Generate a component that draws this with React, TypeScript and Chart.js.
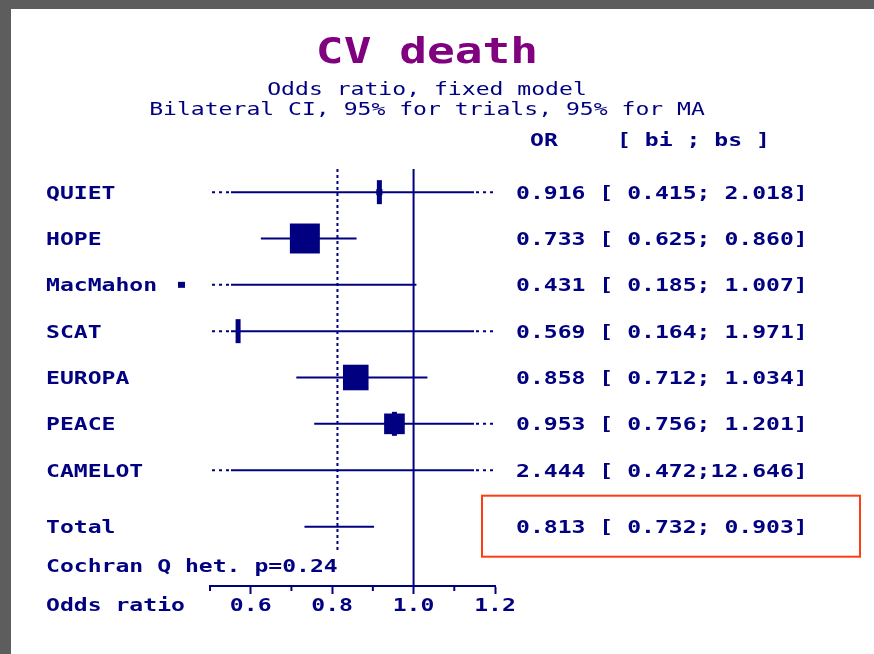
import React, { useEffect, useRef } from 'react';
import { Chart, registerables } from 'chart.js';

Chart.register(...registerables);

// ---------- data ----------
const trials = ['QUIET', 'HOPE', 'MacMahon', 'SCAT', 'EUROPA', 'PEACE', 'CAMELOT'];
const oddsRatio = [0.916, 0.733, 0.431, 0.569, 0.858, 0.953, 2.444];
const ciLow = [0.415, 0.625, 0.185, 0.164, 0.712, 0.756, 0.472];
const ciHigh = [2.018, 0.86, 1.007, 1.971, 1.034, 1.201, 12.646];
const weightPct = [1.8, 43.4, 1.5, 0.7, 31.6, 20.6, 0.4];
const trialRows = [1, 2, 3, 4, 5, 6, 7];

const totalLabel = 'Total';
const totalOR = 0.813;
const totalLow = 0.732;
const totalHigh = 0.903;
const totalRow = 8.22;
const pooledLineEndRow = 8.75;

const heterogeneityText = 'Cochran Q het. p=0.24';
const heterogeneityRow = 9.05;

const titleText = 'CV death';
const subtitleLines = ['Odds ratio, fixed model', 'Bilateral CI, 95% for trials, 95% for MA'];
const headerOR = 'OR';
const headerCI = '[ bi ; bs ]';
const axisTitle = 'Odds ratio';
const xMin = 0.5;
const xMax = 1.2;
const xStep = 0.1;
const majorTickLabels = ['0.6', '0.8', '1.0', '1.2'];

// ---------- style ----------
const NAVY = '#000080';
const PURPLE = '#800080';
const GRAY = '#5d5d5d';
const RED = '#ff3c14';
const MONO = '"DejaVu Sans Mono", monospace';
const STRETCH = 1.282;

function fmt(v: number, w: number) {
  return v.toFixed(3).padStart(w, ' ');
}
function rowText(or: number, lo: number, hi: number) {
  return `${or.toFixed(3)} [${fmt(lo, 6)};${fmt(hi, 6)}]`;
}

function drawText(ctx: CanvasRenderingContext2D, s: string, x: number, y: number, font: string, color: string, align: CanvasTextAlign = 'left') {
  ctx.save();
  ctx.font = font;
  ctx.fillStyle = color;
  ctx.textAlign = align;
  ctx.textBaseline = 'alphabetic';
  (ctx as any).letterSpacing = '0px';
  ctx.translate(x, y);
  ctx.scale(STRETCH, 1);
  ctx.fillText(s, 0, 0);
  ctx.restore();
}

function seg(ctx: CanvasRenderingContext2D, x1: number, y1: number, x2: number, y2: number) {
  ctx.beginPath();
  ctx.moveTo(x1, y1);
  ctx.lineTo(x2, y2);
  ctx.stroke();
}

const forestPlugin = {
  id: 'forest',
  beforeDraw(chart: any) {
    const { ctx, width, height } = chart;
    ctx.save();
    ctx.fillStyle = GRAY;
    ctx.fillRect(0, 0, width, height);
    ctx.fillStyle = '#ffffff';
    ctx.fillRect(11, 9, width - 11, height - 9);
    ctx.restore();
  },
  beforeDatasetsDraw(chart: any) {
    const { ctx, chartArea: area } = chart;
    const xs = chart.scales.x;
    const ys = chart.scales.y;
    const L = area.left;
    const R = area.right;
    ctx.save();
    ctx.strokeStyle = NAVY;
    ctx.lineWidth = 2;
    ctx.lineCap = 'butt';
    // null line
    const x1 = xs.getPixelForValue(1);
    seg(ctx, x1, area.top, x1, area.bottom);
    // pooled estimate dotted line
    const xp = xs.getPixelForValue(totalOR);
    ctx.setLineDash([3, 3]);
    seg(ctx, xp, area.top, xp, ys.getPixelForValue(pooledLineEndRow));
    ctx.setLineDash([]);

    const ext = 21;
    const drawCI = (lo: number, hi: number, row: number) => {
      const py = ys.getPixelForValue(row);
      let a = xs.getPixelForValue(lo);
      let b = xs.getPixelForValue(hi);
      if (lo < xMin) {
        ctx.setLineDash([3, 4]);
        seg(ctx, L + 2, py, L + ext, py);
        ctx.setLineDash([]);
        a = L + ext;
      }
      if (hi > xMax) {
        ctx.setLineDash([3, 4]);
        seg(ctx, R - ext + 2, py, R - 1, py);
        ctx.setLineDash([]);
        b = R - ext;
      }
      seg(ctx, a, py, b, py);
    };
    trials.forEach((_, i) => drawCI(ciLow[i], ciHigh[i], trialRows[i]));
    drawCI(totalLow, totalHigh, totalRow);
    ctx.restore();
  },
  afterDraw(chart: any) {
    const { ctx, chartArea: area } = chart;
    const xs = chart.scales.x;
    const ys = chart.scales.y;
    const W = chart.width;
    const bold = `bold 18px ${MONO}`;
    const normal = `18px ${MONO}`;
    ctx.save();
    // minor ticks + major tick labels
    ctx.strokeStyle = NAVY;
    ctx.lineWidth = 2;
    xs.ticks.forEach((t: any) => {
      const lbl = Number(t.value).toFixed(1);
      const px = xs.getPixelForValue(t.value);
      if (!majorTickLabels.includes(lbl)) {
        seg(ctx, px, area.bottom, px, area.bottom + 5);
      } else {
        drawText(ctx, lbl, px, area.bottom + 25, bold, NAVY, 'center');
      }
    });
    // off-scale markers
    trials.forEach((_, i) => {
      if (oddsRatio[i] < xMin) {
        const py = ys.getPixelForValue(trialRows[i]);
        ctx.fillStyle = NAVY;
        ctx.fillRect(area.left - 32, py - 3, 7, 6);
      }
    });
    ctx.restore();

    // titles
    const cx = W / 2 - 10;
    drawText(ctx, titleText, cx, 63, `bold 36px ${MONO}`, PURPLE, 'center');
    drawText(ctx, subtitleLines[0], cx, 95, normal, NAVY, 'center');
    drawText(ctx, subtitleLines[1], cx, 115, normal, NAVY, 'center');

    const labelX = 46;
    const valueX = 516;
    const base = 6.5;
    const hy = ys.getPixelForValue(-0.14) + base;
    drawText(ctx, headerOR, valueX + 14, hy, bold, NAVY);
    drawText(ctx, headerCI, valueX + 101, hy, bold, NAVY);

    trials.forEach((name, i) => {
      const py = ys.getPixelForValue(trialRows[i]) + base;
      drawText(ctx, name, labelX, py, bold, NAVY);
      drawText(ctx, rowText(oddsRatio[i], ciLow[i], ciHigh[i]), valueX, py, bold, NAVY);
    });
    const ty = ys.getPixelForValue(totalRow);
    drawText(ctx, totalLabel, labelX, ty + base, bold, NAVY);
    drawText(ctx, rowText(totalOR, totalLow, totalHigh), valueX, ty + base, bold, NAVY);
    drawText(ctx, heterogeneityText, labelX, ys.getPixelForValue(heterogeneityRow) + base, bold, NAVY);
    drawText(ctx, axisTitle, labelX, area.bottom + 25, bold, NAVY);

    // highlight box around pooled result
    ctx.save();
    ctx.strokeStyle = RED;
    ctx.lineWidth = 2;
    ctx.strokeRect(482, ty - 31, 378, 61);
    ctx.restore();
  },
};

export default function App() {
  const ref = useRef<HTMLCanvasElement | null>(null);
  useEffect(() => {
    if (!ref.current) return;
    const boxSide = (w: number) => 4.55 * Math.sqrt(w);
    const chart = new Chart(ref.current, {
      type: 'scatter',
      data: {
        datasets: [
          {
            label: 'estimate',
            data: trials.map((_, i) => ({ x: oddsRatio[i], y: trialRows[i] })),
            pointStyle: 'line',
            rotation: 90,
            pointRadius: 12,
            borderWidth: 5,
            borderColor: NAVY,
            backgroundColor: NAVY,
          },
          {
            label: 'weight',
            data: trials.map((_, i) => ({ x: oddsRatio[i], y: trialRows[i] })),
            pointStyle: 'rect',
            pointRadius: trials.map((_, i) => boxSide(weightPct[i]) / Math.SQRT2),
            borderWidth: 0,
            borderColor: NAVY,
            backgroundColor: NAVY,
          },
        ],
      },
      options: {
        animation: false,
        responsive: false,
        events: [],
        layout: { padding: { left: 210, right: 379, top: 169, bottom: 0 } },
        plugins: { legend: { display: false }, tooltip: { enabled: false }, title: { display: false } },
        scales: {
          x: {
            type: 'linear',
            min: xMin,
            max: xMax,
            afterFit: (s: any) => {
              s.height = 68;
            },
            border: { display: true, color: NAVY, width: 2 },
            grid: {
              drawOnChartArea: false,
              drawTicks: true,
              tickLength: 8,
              tickWidth: 2,
              tickColor: (c: any) =>
                c.tick && majorTickLabels.includes(Number(c.tick.value).toFixed(1)) ? NAVY : 'rgba(0,0,0,0)',
            },
            ticks: {
              stepSize: xStep,
              autoSkip: false,
              maxRotation: 0,
              padding: 0,
              color: 'rgba(0,0,0,0)',
              font: { family: MONO, size: 18, weight: 'bold' },
              callback: (v: any) => Number(v).toFixed(1),
            },
          },
          y: {
            type: 'linear',
            display: false,
            min: 0.5,
            max: 9.5,
            reverse: true,
          },
        },
      },
      plugins: [forestPlugin],
    } as any);
    return () => chart.destroy();
  }, []);
  return (
    <div style={{ position: 'fixed', left: 0, top: 0, width: 874, height: 654 }}>
      <canvas ref={ref} width={874} height={654} style={{ display: 'block' }} />
    </div>
  );
}
